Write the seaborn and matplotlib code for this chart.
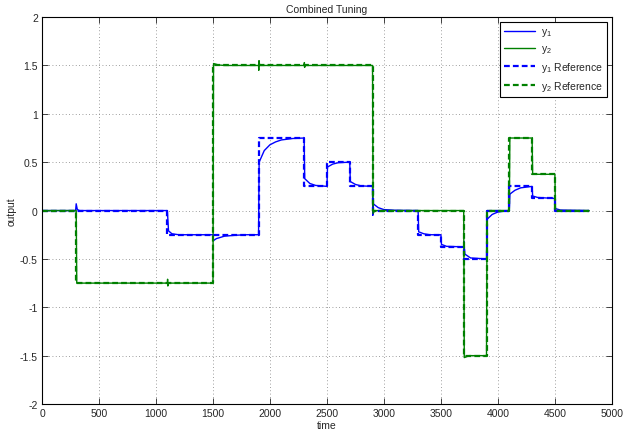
import matplotlib
matplotlib.use("Agg")
import matplotlib.pyplot as plt
import seaborn as sns
import pandas as pd

# Setpoint schedule (piecewise constant, held until the next breakpoint)
ref_time = [0, 300, 1100, 1500, 1900, 2300, 2500, 2700, 2900, 3300, 3500,
            3700, 3900, 4100, 4300, 4500, 4800]
y1_ref = [0, 0, -0.25, -0.25, 0.75, 0.25, 0.5, 0.25, 0, -0.25, -0.375,
          -0.5, 0, 0.25, 0.125, 0, 0]
y2_ref = [0, -0.75, -0.75, 1.5, 1.5, 1.5, 1.5, 1.5, 0, 0, 0,
          -1.5, 0, 0.75, 0.375, 0, 0]

# Measured closed-loop outputs
y1_time = [0, 295, 300, 310, 330, 1100, 1110, 1140, 1200, 1500, 1505, 1530,
           1600, 1700, 1800, 1900, 1905, 1950, 2000, 2050, 2100, 2200, 2300,
           2305, 2350, 2400, 2500, 2505, 2550, 2600, 2700, 2705, 2750, 2800,
           2900, 2902, 2906, 2950, 3000, 3100, 3300, 3305, 3350, 3400, 3500,
           3505, 3550, 3700, 3702, 3710, 3760, 3900, 3905, 3950, 4000, 4100,
           4105, 4150, 4200, 4300, 4305, 4350, 4500, 4505, 4550, 4800]
y1_out = [0, 0, 0.07, 0.01, 0, 0, -0.21, -0.24, -0.25, -0.25, -0.31, -0.29,
          -0.265, -0.255, -0.25, -0.25, 0.5, 0.62, 0.68, 0.71, 0.73, 0.745, 0.75,
          0.33, 0.28, 0.26, 0.25, 0.45, 0.48, 0.495, 0.5, 0.3, 0.27, 0.255,
          0.25, -0.05, 0.07, 0.03, 0.01, 0.003, 0, -0.22, -0.24, -0.25, -0.25,
          -0.35, -0.37, -0.375, -0.32, -0.45, -0.49, -0.5, -0.09, -0.04, -0.015, 0,
          0.17, 0.21, 0.235, 0.25, 0.15, 0.135, 0.125, 0.02, 0.005, 0]

y2_time = [0, 300, 305, 1100, 1102, 1104, 1110, 1500, 1505, 1550, 1600, 1900,
           1902, 1904, 1910, 2300, 2302, 2304, 2310, 2900, 2905, 2920, 3700,
           3705, 3750, 3900, 3905, 4100, 4105, 4300, 4305, 4500, 4505, 4800]
y2_out = [0, 0, -0.75, -0.75, -0.71, -0.78, -0.75, -0.75, 1.52, 1.505, 1.5, 1.5,
          1.45, 1.55, 1.5, 1.5, 1.53, 1.48, 1.5, 1.5, -0.03, 0, 0,
          -1.52, -1.5, -1.5, 0, 0, 0.75, 0.75, 0.375, 0.375, 0, 0]

x_ticks = [0, 500, 1000, 1500, 2000, 2500, 3000, 3500, 4000, 4500, 5000]
y_ticks = [-2, -1.5, -1, -0.5, 0, 0.5, 1, 1.5, 2]
y_tick_labels = ["-2", "-1.5", "-1", "-0.5", "0", "0.5", "1", "1.5", "2"]

sns.set_style("white")
plt.rcParams["font.family"] = ["Liberation Sans", "DejaVu Sans"]
plt.rcParams["mathtext.default"] = "regular"

blue = "#0000ff"
green = "#008000"

fig = plt.figure(figsize=(6.25, 4.31), dpi=100)
ax = fig.add_axes([0.0672, 0.0603, 0.9118, 0.8977])

df1 = pd.DataFrame({"time": y1_time, "value": y1_out})
df2 = pd.DataFrame({"time": y2_time, "value": y2_out})
dref = pd.DataFrame({"time": ref_time, "y1": y1_ref, "y2": y2_ref})

sns.lineplot(data=df1, x="time", y="value", ax=ax, color=blue, lw=1.0,
             estimator=None, sort=False, label=r"$y_1$")
sns.lineplot(data=df2, x="time", y="value", ax=ax, color=green, lw=1.0,
             estimator=None, sort=False, label=r"$y_2$")
sns.lineplot(data=dref, x="time", y="y1", ax=ax, color=blue, lw=1.6,
             estimator=None, sort=False, drawstyle="steps-post",
             dashes=False, linestyle=(0, (2.6, 1.4)), label=r"$y_1$ Reference")
sns.lineplot(data=dref, x="time", y="y2", ax=ax, color=green, lw=1.6,
             estimator=None, sort=False, drawstyle="steps-post",
             dashes=False, linestyle=(0, (2.6, 1.4)), label=r"$y_2$ Reference")

ax.set_xlim(0, 5000)
ax.set_ylim(-2, 2)
ax.set_xticks(x_ticks)
ax.set_xticklabels([str(t) for t in x_ticks])
ax.set_yticks(y_ticks)
ax.set_yticklabels(y_tick_labels)
ax.tick_params(direction="in", length=4, width=0.6, labelsize=7.5,
               top=True, right=True, bottom=True, left=True, pad=3)
ax.grid(True, color="#7f7f7f", linestyle=(0, (1, 3)), linewidth=0.6)
for s in ax.spines.values():
    s.set_visible(True)
    s.set_color("black")
    s.set_linewidth(0.8)

ax.set_xlabel("time", fontsize=7.5, labelpad=1)
ax.set_ylabel("output", fontsize=7.5, labelpad=2)
ax.set_title("Combined Tuning", fontsize=7.5, pad=4)

leg = ax.legend(loc="upper right", fontsize=7.5, frameon=True, fancybox=False,
                edgecolor="black", framealpha=1, borderaxespad=0.5,
                handlelength=3.0, handletextpad=0.5, labelspacing=0.45,
                borderpad=0.4)
leg.get_frame().set_linewidth(0.8)

fig.savefig("out.png", dpi=100)
